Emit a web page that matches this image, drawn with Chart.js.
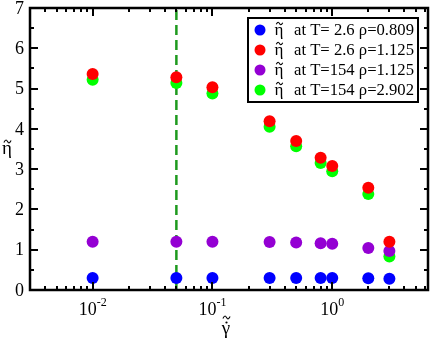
<!DOCTYPE html>
<html>
<head>
<meta charset="utf-8">
<script src="https://cdn.jsdelivr.net/npm/chart.js@4.4.1/dist/chart.umd.min.js"></script>
<style>
    html, body { margin: 0; padding: 0; background: #fff; }
    canvas { display: block; }
</style>
</head>
<body>
<canvas id="chart" width="436" height="344"></canvas>
<script>
// shear rates (x) and viscosities (y)
const gammaRates = [0.01, 0.05, 0.1, 0.3, 0.5, 0.8, 1.0, 2.0, 3.0];
const etaT26rho0809 = [0.30, 0.30, 0.30, 0.30, 0.30, 0.30, 0.30, 0.29, 0.28];
const etaT26rho1125 = [5.36, 5.28, 5.03, 4.19, 3.70, 3.28, 3.08, 2.54, 1.20];
const etaT154rho1125 = [1.20, 1.20, 1.20, 1.19, 1.18, 1.16, 1.15, 1.04, 0.97];
const etaT154rho2902 = [5.22, 5.14, 4.88, 4.05, 3.57, 3.15, 2.95, 2.38, 0.83];
const seriesLabels = ["at T= 2.6 \u03c1=0.809", "at T= 2.6 \u03c1=1.125", "at T=154 \u03c1=1.125", "at T=154 \u03c1=2.902"];
const seriesColors = ["#0000ff", "#ff0000", "#9400d3", "#00ff00"];
const cutoffGamma = 0.05;
const yTicks = [0, 1, 2, 3, 4, 5, 6, 7];
const xTickExps = [-2, -1, 0];

const FONT = "'Liberation Serif', 'Times New Roman', serif";

function toPoints(xs, ys) {
    return xs.map((x, i) => ({x: x, y: ys[i]}));
}

function makeSet(label, color, values) {
    return {
        type: 'scatter',
        label: label,
        data: toPoints(gammaRates, values),
        backgroundColor: color,
        borderColor: color,
        pointRadius: 6,
        pointHoverRadius: 6,
        borderWidth: 0
    };
}

// small tilde drawn as a curve, centred at (cx, cy)
function drawTilde(ctx, cx, cy, w) {
    const h = w * 0.22;
    ctx.save();
    ctx.lineWidth = 1.1;
    ctx.beginPath();
    ctx.moveTo(cx - w / 2, cy + h * 0.6);
    ctx.bezierCurveTo(cx - w / 4, cy - h * 1.6, cx - w / 8, cy - h, cx, cy);
    ctx.bezierCurveTo(cx + w / 8, cy + h, cx + w / 4, cy + h * 1.6, cx + w / 2, cy - h * 0.6);
    ctx.stroke();
    ctx.restore();
}

// symbol with tilde (and optional dot) above, base glyph centred at x, baseline y
function drawAccented(ctx, glyph, x, y, size, withDot) {
    ctx.save();
    ctx.font = size + 'px ' + FONT;
    ctx.textAlign = 'center';
    ctx.textBaseline = 'alphabetic';
    ctx.fillText(glyph, x, y);
    let top = y - size * 0.5;
    if (withDot) {
        ctx.beginPath();
        ctx.arc(x + 0.5, top - 2, 1.1, 0, Math.PI * 2);
        ctx.fill();
        top -= 4;
    }
    drawTilde(ctx, x + 0.5, top - 3, size * 0.38);
    ctx.restore();
}

// frame, inward ticks, tick labels, axis titles and legend
const decorPlugin = {
    id: 'decor',
    afterDatasetsDraw(chart) {
        const ctx = chart.ctx;
        const a = chart.chartArea;
        const xs = chart.scales.x;
        const ys = chart.scales.y;
        ctx.save();
        ctx.strokeStyle = '#000';
        ctx.fillStyle = '#000';

        //ticks on x axis (bottom and top)
        ctx.lineWidth = 2;
        for (let e = -3; e <= 0; e++) {
            for (let m = 1; m <= 9; m++) {
                const v = m * Math.pow(10, e);
                if (v < xs.min || v > xs.max) continue;
                const px = Math.round(xs.getPixelForValue(v));
                const len = m === 1 ? 8 : 4;
                ctx.beginPath();
                ctx.moveTo(px, a.bottom);
                ctx.lineTo(px, a.bottom - len);
                ctx.moveTo(px, a.top);
                ctx.lineTo(px, a.top + len);
                ctx.stroke();
            }
        }

        //ticks on y axis (left and right)
        for (let v = 0; v <= 7; v += 0.5) {
            const py = Math.round(ys.getPixelForValue(v));
            const len = Number.isInteger(v) ? 8 : 4;
            ctx.beginPath();
            ctx.moveTo(a.left, py);
            ctx.lineTo(a.left + len, py);
            ctx.moveTo(a.right, py);
            ctx.lineTo(a.right - len, py);
            ctx.stroke();
        }

        //frame
        ctx.lineWidth = 2.5;
        ctx.strokeRect(a.left, a.top, a.right - a.left, a.bottom - a.top);

        //y tick labels
        ctx.font = '18px ' + FONT;
        ctx.textAlign = 'right';
        ctx.textBaseline = 'middle';
        yTicks.forEach(v => {
            ctx.fillText(String(v), a.left - 6, ys.getPixelForValue(v) + 1);
        });

        //x tick labels with superscript
        ctx.textBaseline = 'alphabetic';
        xTickExps.forEach(e => {
            const px = xs.getPixelForValue(Math.pow(10, e));
            ctx.font = '18px ' + FONT;
            const wb = ctx.measureText('10').width;
            ctx.font = '12px ' + FONT;
            const sup = e === 0 ? '0' : '-' + Math.abs(e);
            const ws = ctx.measureText(sup).width;
            const x0 = px - (wb + ws) / 2;
            ctx.textAlign = 'left';
            ctx.font = '18px ' + FONT;
            ctx.fillText('10', x0, a.bottom + 25);
            ctx.font = '12px ' + FONT;
            ctx.fillText(sup, x0 + wb, a.bottom + 16);
        });

        //axis titles
        drawAccented(ctx, '\u03b7', 7, 154, 19, false);
        drawAccented(ctx, '\u03b3', 226, 334, 19, true);

        //legend box
        const lx = 248, ly = 18, lw = 170, lh = 84;
        ctx.fillStyle = '#fff';
        ctx.fillRect(lx, ly, lw, lh);
        ctx.fillStyle = '#000';
        ctx.lineWidth = 2;
        ctx.strokeRect(lx, ly, lw, lh);
        seriesLabels.forEach((label, i) => {
            const cy = ly + 12 + i * 20;
            ctx.fillStyle = seriesColors[i];
            ctx.beginPath();
            ctx.arc(lx + 12, cy, 5.5, 0, Math.PI * 2);
            ctx.fill();
            ctx.fillStyle = '#000';
            ctx.strokeStyle = '#000';
            drawAccented(ctx, '\u03b7', lx + 31, cy + 5, 17, false);
            ctx.font = '17px ' + FONT;
            ctx.textAlign = 'left';
            ctx.textBaseline = 'middle';
            ctx.fillText(label, lx + 46, cy + 1, 120);
        });
        ctx.restore();
    }
};

const datasets = [
    makeSet(seriesLabels[0], seriesColors[0], etaT26rho0809),
    makeSet(seriesLabels[1], seriesColors[1], etaT26rho1125),
    makeSet(seriesLabels[2], seriesColors[2], etaT154rho1125),
    makeSet(seriesLabels[3], seriesColors[3], etaT154rho2902),
    {
        type: 'line',
        label: 'cutoff',
        data: [{x: cutoffGamma, y: 0}, {x: cutoffGamma, y: 7}],
        borderColor: '#1e9a1e',
        borderWidth: 2.5,
        borderDash: [10, 5],
        pointRadius: 0,
        fill: false
    }
];

new Chart(document.getElementById('chart').getContext('2d'), {
    type: 'scatter',
    data: {datasets: datasets},
    options: {
        responsive: false,
        animation: false,
        devicePixelRatio: 1,
        layout: {padding: {left: 30, top: 8, right: 8, bottom: 54}},
        plugins: {legend: {display: false}, tooltip: {enabled: false}},
        scales: {
            x: {type: 'logarithmic', min: 0.003, max: 6.3, display: false},
            y: {type: 'linear', min: 0, max: 7, display: false}
        }
    },
    plugins: [decorPlugin]
});
</script>
</body>
</html>
